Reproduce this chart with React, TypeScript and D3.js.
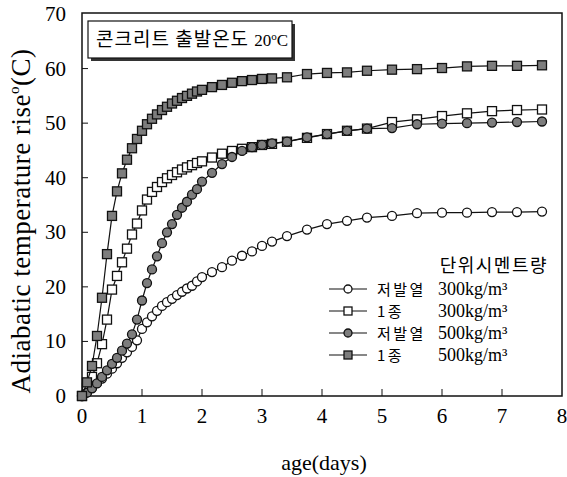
import React from 'react';
import * as d3 from 'd3';

// sampling times in hours (shared by all four curves)
const hours = [
  0, 2, 4, 6, 8, 10, 12, 14, 16, 18, 20, 22, 24, 26, 28, 30, 32, 34, 36, 38, 40, 42, 44, 46, 48,
  52, 56, 60, 64, 68, 72, 76, 82, 90, 98, 106, 114, 124, 134, 144, 154, 164, 174, 184,
];

// 저발열 300kg/m3 (open circles)
const lowHeat300 = [
  0, 0.7, 1.5, 2.4, 3.2, 4.1, 5.0, 6.0, 7.0, 8.0, 9.0, 10.2, 12.3, 13.5, 14.6, 15.6, 16.5, 17.2, 17.8, 18.5, 19.1, 19.7, 20.2, 21.0, 21.8,
  22.7, 23.6, 24.8, 25.7, 26.5, 27.5, 28.3, 29.3, 30.5, 31.5, 32.1, 32.7, 33.0, 33.5, 33.6, 33.6, 33.7, 33.7, 33.8,
];
// 1종 300kg/m3 (open squares)
const type1_300 = [
  0, 1.5, 3.5, 6.0, 9.5, 14.0, 19.5, 22.0, 24.5, 27.0, 29.6, 31.6, 34.0, 36.0, 37.4, 38.3, 39.2, 39.9, 40.5, 41.0, 41.5, 41.9, 42.3, 42.7, 43.0,
  43.7, 44.4, 44.9, 45.3, 45.6, 46.0, 46.2, 46.6, 47.3, 48.0, 48.6, 49.0, 50.2, 50.7, 51.3, 51.8, 52.2, 52.4, 52.5,
];
// 저발열 500kg/m3 (filled circles)
const lowHeat500 = [
  0, 0.6, 1.4, 2.3, 3.5, 4.7, 5.9, 7.0, 8.3, 9.6, 11.3, 14.0, 17.5, 20.7, 23.2, 25.6, 28.0, 30.0, 31.5, 33.2, 34.5, 35.6, 36.9, 37.9, 39.3,
  40.9, 42.5, 43.8, 44.9, 45.6, 46.0, 46.3, 46.6, 47.4, 48.0, 48.6, 49.0, 49.1, 49.8, 49.9, 50.0, 50.1, 50.2, 50.3,
];
// 1종 500kg/m3 (filled squares)
const type1_500 = [
  0, 2.5, 5.5, 11.0, 18.0, 26.0, 33.0, 37.5, 40.8, 43.3, 45.4, 47.1, 48.6, 49.8, 50.8, 51.6, 52.4, 53.0, 53.6, 54.1, 54.6, 55.0, 55.4, 55.8, 56.1,
  56.6, 57.0, 57.4, 57.7, 57.9, 58.1, 58.2, 58.4, 59.0, 59.2, 59.3, 59.6, 59.8, 59.9, 60.1, 60.4, 60.5, 60.5, 60.6,
];

const xTicks = [0, 1, 2, 3, 4, 5, 6, 7, 8];
const yTicks = [0, 10, 20, 30, 40, 50, 60, 70];

const seriesNames = ['저발열', '1종', '저발열', '1종'];
const seriesAmounts = ['300kg/m³', '300kg/m³', '500kg/m³', '500kg/m³'];

const W = 567;
const H = 477;
const FONT = "'Liberation Serif', 'Noto Sans CJK KR', serif";
const KFONT = "'Noto Sans CJK KR', 'Liberation Serif', serif";

const Marker = ({ x, y, shape, filled, size = 9 }) => {
  const fill = filled ? '#7d7d7d' : '#fff';
  if (shape === 'square') {
    return (
      <rect x={x - size / 2} y={y - size / 2} width={size} height={size}
        fill={fill} stroke="#111" strokeWidth={1.3} />
    );
  }
  return <circle cx={x} cy={y} r={size / 2} fill={fill} stroke="#111" strokeWidth={1.3} />;
};

export default function App() {
  const left = 82, right = 562, top = 14, bottom = 396;

  const x = d3.scaleLinear().domain([0, 8]).range([left, right]);
  const y = d3.scaleLinear().domain([0, 70]).range([bottom, top]);

  const series = [
    { values: lowHeat300, shape: 'circle', filled: false },
    { values: type1_300, shape: 'square', filled: false },
    { values: lowHeat500, shape: 'circle', filled: true },
    { values: type1_500, shape: 'square', filled: true },
  ];

  const line = d3
    .line<[number, number]>()
    .x(d => x(d[0] / 24))
    .y(d => y(d[1]));

  return (
    <svg width={W} height={H} style={{ position: 'absolute', left: 0, top: 0, background: '#fff' }}
      fontFamily={FONT}>
      {/* plot frame */}
      <rect x={left} y={top - 1} width={right - left} height={bottom - top + 1}
        fill="none" stroke="#111" strokeWidth={1.5} />

      {/* ticks */}
      {xTicks.map(t => (
        <g key={'x' + t}>
          {t > 0 && t < 8 && <line x1={x(t)} x2={x(t)} y1={bottom} y2={bottom - 7} stroke="#111" />}
          <text x={x(t)} y={423} textAnchor="middle" fontSize={21}>{t}</text>
        </g>
      ))}
      {yTicks.map(t => (
        <g key={'y' + t}>
          {t > 0 && t < 70 && <line x1={left} x2={left + 6} y1={y(t)} y2={y(t)} stroke="#111" />}
          <text x={66} y={y(t) + 7} textAnchor="end" fontSize={21}>{t}</text>
        </g>
      ))}

      {/* axis titles */}
      <text x={324} y={470} textAnchor="middle" fontSize={22}>age(days)</text>
      <text transform={`translate(30, 221) rotate(-90)`} textAnchor="middle" fontSize={27} letterSpacing={0.5}>
        Adiabatic temperature rise<tspan dy={-11} fontSize={15}>o</tspan><tspan dy={11}>(C)</tspan>
      </text>

      {/* curves */}
      {series.map((s, i) => {
        const pts = hours.map((h, k) => [h, s.values[k]] as [number, number]);
        return (
          <g key={'s' + i}>
            <path d={line(pts) || ''} fill="none" stroke="#111" strokeWidth={1.2} />
            {pts.map((p, k) => (
              <Marker key={k} x={x(p[0] / 24)} y={y(p[1])} shape={s.shape} filled={s.filled} />
            ))}
          </g>
        );
      })}

      {/* title box */}
      <rect x={91} y={24} width={204} height={37} fill="#333" />
      <rect x={88} y={21} width={204} height={37} fill="#fff" stroke="#111" strokeWidth={1.2} />
      <text x={96} y={46} fontSize={19}>
        <tspan fontFamily={KFONT} letterSpacing={1}>콘크리트 출발온도 </tspan>
        <tspan fontSize={17}>20</tspan><tspan fontSize={11} dy={-6}>o</tspan><tspan dy={6} fontSize={17}>C</tspan>
      </text>

      {/* legend */}
      <text x={548} y={272} textAnchor="end" fontSize={18} letterSpacing={1.5} fontFamily={KFONT}>단위시멘트량</text>
      {series.map((s, i) => {
        const ly = 289 + i * 22;
        return (
          <g key={'l' + i}>
            <line x1={329} x2={367} y1={ly} y2={ly} stroke="#111" strokeWidth={1.2} />
            <Marker x={348} y={ly} shape={s.shape} filled={s.filled} size={8} />
            <text x={377} y={ly + 6} fontSize={15} letterSpacing={2.5} fontFamily={KFONT}>{seriesNames[i]}</text>
            <text x={438} y={ly + 6} fontSize={18}>{seriesAmounts[i]}</text>
          </g>
        );
      })}
    </svg>
  );
}
